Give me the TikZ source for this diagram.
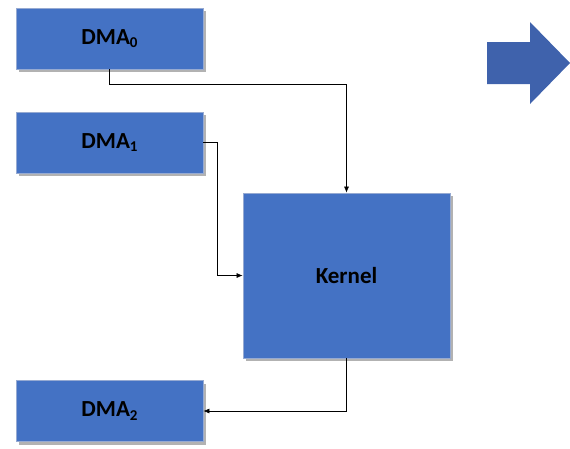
\documentclass[tikz,border=0pt]{standalone}
\usepackage{fontspec}
\setmainfont{Carlito}
\usepackage{tikz}
\usetikzlibrary{arrows.meta,shadows}
\usepackage{xcolor}

\definecolor{boxfill}{RGB}{68,114,196}
\definecolor{boxedge}{RGB}{150,170,210}
\definecolor{bigarrow}{RGB}{63,98,172}

% pedice dei DMA
\newcommand{\dmaidx}[1]{\raisebox{-0.3ex}{\fontsize{15}{15}\selectfont #1}}

\begin{document}
\begin{tikzpicture}[x=1pt, y=-1pt,
    blk/.style={draw=boxedge, line width=0.8pt, fill=boxfill, inner sep=0pt,
        font=\fontsize{23}{27}\selectfont\bfseries,
        drop shadow={shadow xshift=3pt, shadow yshift=-3pt, opacity=0.3, fill=black}},
    link/.style={-{Latex[length=6pt,width=5pt]}, line width=0.6pt}]
    \useasboundingbox (0,0) rectangle (570,448);

    % Blocchi DMA
    \node[blk, minimum width=187pt, minimum height=61pt] (dma_0) at (109.5,38.5) {DMA\dmaidx{0}};
    \node[blk, minimum width=187pt, minimum height=61pt] (dma_1) at (109.5,142.5) {DMA\dmaidx{1}};
    \node[blk, minimum width=187pt, minimum height=61pt] (dma_2) at (109.5,411) {DMA\dmaidx{2}};

    % Kernel
    \node[blk, minimum width=207pt, minimum height=165pt] (kernel) at (346.5,275.5) {Kernel};

    % Collegamenti
    \draw[link] (dma_0.south) -- ++(0,15) -| (kernel.north);
    \draw[link] (dma_1.east) -- ++(14,0) |- (kernel.west);
    \draw[link] (kernel.south) |- (dma_2.east);

    % Freccia grande
    \fill[bigarrow] (487,42) -- (530,42) -- (530,22) -- (570,63) -- (530,104) -- (530,84) -- (487,84) -- cycle;
\end{tikzpicture}
\end{document}
